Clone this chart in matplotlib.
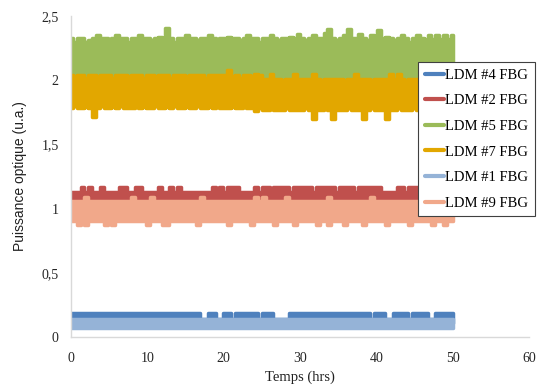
import numpy as np
import matplotlib
matplotlib.use("Agg")
import matplotlib.pyplot as plt
from matplotlib.lines import Line2D
from matplotlib.ticker import FuncFormatter

# upper / lower envelope of each noisy trace (one pair every ~0.5 h)
ldm4_hi = [0.19, 0.19, 0.19, 0.19, 0.19, 0.19, 0.19, 0.19, 0.19, 0.19,
           0.19, 0.19, 0.19, 0.19, 0.19, 0.19, 0.19, 0.19, 0.19, 0.19,
           0.19, 0.19, 0.19, 0.19, 0.19, 0.19, 0.19, 0.19, 0.19, 0.19,
           0.19, 0.19, 0.19, 0.19, 0.14, 0.14, 0.19, 0.19, 0.14, 0.14,
           0.19, 0.19, 0.14, 0.19, 0.19, 0.19, 0.19, 0.19, 0.19, 0.14,
           0.19, 0.19, 0.19, 0.14, 0.14, 0.14, 0.14, 0.19, 0.19, 0.19,
           0.19, 0.19, 0.19, 0.19, 0.19, 0.19, 0.19, 0.19, 0.19, 0.19,
           0.19, 0.19, 0.19, 0.19, 0.19, 0.19, 0.19, 0.19, 0.14, 0.19,
           0.19, 0.19, 0.14, 0.14, 0.19, 0.19, 0.19, 0.19, 0.14, 0.19,
           0.19, 0.19, 0.19, 0.14, 0.14, 0.19, 0.19, 0.19, 0.19, 0.19]
ldm4_lo = [0.11, 0.10, 0.11, 0.10, 0.11, 0.10, 0.11, 0.10, 0.11, 0.10,
           0.10, 0.11, 0.10, 0.11, 0.10, 0.11, 0.10, 0.11, 0.10, 0.11,
           0.11, 0.10, 0.11, 0.10, 0.11, 0.10, 0.11, 0.10, 0.11, 0.10,
           0.10, 0.11, 0.10, 0.11, 0.10, 0.11, 0.10, 0.11, 0.10, 0.11,
           0.11, 0.10, 0.11, 0.10, 0.11, 0.10, 0.11, 0.10, 0.11, 0.10,
           0.10, 0.11, 0.10, 0.11, 0.10, 0.11, 0.10, 0.11, 0.10, 0.11,
           0.11, 0.10, 0.11, 0.10, 0.11, 0.10, 0.11, 0.10, 0.11, 0.10,
           0.10, 0.11, 0.10, 0.11, 0.10, 0.11, 0.10, 0.11, 0.10, 0.11,
           0.11, 0.10, 0.11, 0.10, 0.11, 0.10, 0.11, 0.10, 0.11, 0.10,
           0.10, 0.11, 0.10, 0.11, 0.10, 0.11, 0.10, 0.11, 0.10, 0.11]

ldm2_hi = [1.13, 1.13, 1.13, 1.17, 1.13, 1.17, 1.13, 1.13, 1.17, 1.13,
           1.13, 1.13, 1.13, 1.17, 1.17, 1.13, 1.13, 1.17, 1.17, 1.13,
           1.13, 1.13, 1.13, 1.17, 1.13, 1.13, 1.17, 1.13, 1.17, 1.13,
           1.13, 1.13, 1.13, 1.13, 1.13, 1.13, 1.13, 1.17, 1.13, 1.17,
           1.13, 1.17, 1.17, 1.17, 1.13, 1.13, 1.13, 1.13, 1.17, 1.13,
           1.17, 1.17, 1.13, 1.17, 1.17, 1.17, 1.17, 1.13, 1.17, 1.17,
           1.17, 1.17, 1.17, 1.13, 1.17, 1.17, 1.17, 1.17, 1.17, 1.13,
           1.17, 1.17, 1.17, 1.17, 1.13, 1.17, 1.17, 1.17, 1.17, 1.17,
           1.17, 1.13, 1.13, 1.13, 1.13, 1.17, 1.17, 1.13, 1.17, 1.17,
           1.17, 1.13, 1.17, 1.17, 1.13, 1.17, 1.13, 1.13, 1.13, 1.13]
ldm2_lo = [1.02, 1.03, 1.02, 1.03, 1.02, 1.03, 1.02, 1.03, 1.02, 1.03,
           1.03, 1.02, 1.03, 1.02, 1.03, 1.02, 1.03, 1.02, 1.03, 1.02,
           1.02, 1.03, 1.02, 1.03, 1.02, 1.03, 1.02, 1.03, 1.02, 1.03,
           1.03, 1.02, 1.03, 1.02, 1.03, 1.02, 1.03, 1.02, 1.03, 1.02,
           1.02, 1.03, 1.02, 1.03, 1.02, 1.03, 1.02, 1.03, 1.02, 1.03,
           1.03, 1.02, 1.03, 1.02, 1.03, 1.02, 1.03, 1.02, 1.03, 1.02,
           1.02, 1.03, 1.02, 1.03, 1.02, 1.03, 1.02, 1.03, 1.02, 1.03,
           1.03, 1.02, 1.03, 1.02, 1.03, 1.02, 1.03, 1.02, 1.03, 1.02,
           1.02, 1.03, 1.02, 1.03, 1.02, 1.03, 1.02, 1.03, 1.02, 1.03,
           1.03, 1.02, 1.03, 1.02, 1.03, 1.02, 1.03, 1.02, 1.03, 1.02]

ldm5_hi = [2.33, 2.30, 2.33, 2.33, 2.30, 2.31, 2.33, 2.35, 2.33, 2.33,
           2.31, 2.33, 2.35, 2.33, 2.33, 2.30, 2.33, 2.33, 2.35, 2.33,
           2.33, 2.31, 2.33, 2.34, 2.33, 2.41, 2.33, 2.30, 2.33, 2.33,
           2.35, 2.33, 2.33, 2.31, 2.33, 2.33, 2.35, 2.33, 2.30, 2.33,
           2.33, 2.34, 2.33, 2.33, 2.31, 2.33, 2.35, 2.33, 2.33, 2.30,
           2.33, 2.33, 2.35, 2.33, 2.31, 2.33, 2.33, 2.34, 2.33, 2.36,
           2.33, 2.31, 2.33, 2.35, 2.33, 2.33, 2.37, 2.40, 2.33, 2.31,
           2.33, 2.35, 2.40, 2.33, 2.33, 2.36, 2.33, 2.31, 2.35, 2.33,
           2.39, 2.33, 2.34, 2.33, 2.31, 2.33, 2.35, 2.33, 2.30, 2.33,
           2.35, 2.33, 2.32, 2.35, 2.32, 2.35, 2.32, 2.35, 2.32, 2.35]
ldm5_lo = [1.98, 1.99, 1.98, 1.99, 1.98, 1.99, 1.98, 1.99, 1.98, 1.99,
           1.99, 1.98, 1.99, 1.98, 1.99, 1.98, 1.99, 1.98, 1.99, 1.98,
           1.98, 1.99, 1.98, 1.99, 1.98, 1.99, 1.98, 1.99, 1.98, 1.99,
           1.99, 1.98, 1.99, 1.98, 1.99, 1.98, 1.99, 1.98, 1.99, 1.98,
           1.98, 1.99, 1.98, 1.99, 1.98, 1.99, 1.98, 1.99, 1.98, 1.99,
           1.97, 1.96, 1.97, 1.96, 1.97, 1.96, 1.97, 1.96, 1.97, 1.96,
           1.96, 1.97, 1.96, 1.97, 1.96, 1.97, 1.96, 1.97, 1.96, 1.97,
           1.97, 1.96, 1.97, 1.96, 1.97, 1.96, 1.97, 1.96, 1.97, 1.96,
           1.96, 1.97, 1.96, 1.97, 1.96, 1.97, 1.96, 1.97, 1.96, 1.97,
           1.97, 1.96, 1.97, 1.96, 1.97, 1.96, 1.97, 1.96, 1.97, 1.96]

ldm7_hi = [2.04, 2.03, 2.04, 2.04, 2.02, 2.04, 2.04, 2.03, 2.04, 2.04,
           2.04, 2.02, 2.04, 2.04, 2.04, 2.03, 2.04, 2.04, 2.04, 2.02,
           2.04, 2.04, 2.03, 2.04, 2.04, 2.04, 2.02, 2.04, 2.04, 2.04,
           2.03, 2.04, 2.04, 2.04, 2.04, 2.02, 2.04, 2.04, 2.04, 2.04,
           2.04, 2.08, 2.03, 2.04, 2.02, 2.04, 2.04, 2.03, 2.05, 2.04,
           2.01, 2.01, 2.05, 2.01, 2.01, 2.00, 2.01, 2.01, 2.05, 2.01,
           2.01, 2.01, 2.01, 2.05, 2.01, 2.00, 2.01, 2.01, 2.01, 2.01,
           2.01, 2.00, 2.01, 2.01, 2.05, 2.01, 2.01, 2.01, 2.00, 2.01,
           2.01, 2.01, 2.01, 2.05, 2.01, 2.05, 2.01, 2.00, 2.01, 2.01,
           2.01, 2.01, 2.00, 2.01, 2.01, 2.01, 2.01, 2.01, 2.01, 2.01]
ldm7_lo = [1.78, 1.80, 1.78, 1.78, 1.79, 1.78, 1.71, 1.78, 1.80, 1.78,
           1.78, 1.79, 1.78, 1.80, 1.78, 1.78, 1.78, 1.80, 1.78, 1.79,
           1.78, 1.78, 1.80, 1.78, 1.78, 1.79, 1.78, 1.80, 1.78, 1.78,
           1.79, 1.78, 1.78, 1.80, 1.78, 1.78, 1.79, 1.78, 1.80, 1.78,
           1.78, 1.78, 1.79, 1.78, 1.78, 1.80, 1.78, 1.78, 1.76, 1.78,
           1.77, 1.77, 1.78, 1.77, 1.77, 1.77, 1.78, 1.77, 1.77, 1.77,
           1.77, 1.78, 1.77, 1.70, 1.77, 1.77, 1.78, 1.77, 1.70, 1.77,
           1.77, 1.77, 1.78, 1.77, 1.77, 1.77, 1.70, 1.77, 1.78, 1.77,
           1.77, 1.77, 1.70, 1.77, 1.77, 1.78, 1.77, 1.77, 1.77, 1.78,
           1.77, 1.77, 1.77, 1.78, 1.77, 1.77, 1.77, 1.77, 1.77, 1.77]

ldm1_hi = [0.14, 0.14, 0.14, 0.14, 0.14, 0.14, 0.14, 0.14, 0.14, 0.14,
           0.14, 0.14, 0.14, 0.14, 0.14, 0.14, 0.14, 0.14, 0.14, 0.14,
           0.14, 0.14, 0.14, 0.14, 0.14, 0.14, 0.14, 0.14, 0.14, 0.14,
           0.14, 0.14, 0.14, 0.14, 0.14, 0.14, 0.14, 0.14, 0.14, 0.14,
           0.14, 0.14, 0.14, 0.14, 0.14, 0.14, 0.14, 0.14, 0.14, 0.14,
           0.14, 0.14, 0.14, 0.14, 0.14, 0.14, 0.14, 0.14, 0.14, 0.14,
           0.14, 0.14, 0.14, 0.14, 0.14, 0.14, 0.14, 0.14, 0.14, 0.14,
           0.14, 0.14, 0.14, 0.14, 0.14, 0.14, 0.14, 0.14, 0.14, 0.14,
           0.14, 0.14, 0.14, 0.14, 0.14, 0.14, 0.14, 0.14, 0.14, 0.14,
           0.14, 0.14, 0.14, 0.14, 0.14, 0.14, 0.14, 0.14, 0.14, 0.14]
ldm1_lo = [0.07, 0.07, 0.07, 0.07, 0.07, 0.07, 0.07, 0.07, 0.07, 0.07,
           0.07, 0.07, 0.07, 0.07, 0.07, 0.07, 0.07, 0.07, 0.07, 0.07,
           0.07, 0.07, 0.07, 0.07, 0.07, 0.07, 0.07, 0.07, 0.07, 0.07,
           0.07, 0.07, 0.07, 0.07, 0.07, 0.07, 0.07, 0.07, 0.07, 0.07,
           0.07, 0.07, 0.07, 0.07, 0.07, 0.07, 0.07, 0.07, 0.07, 0.07,
           0.07, 0.07, 0.07, 0.07, 0.07, 0.07, 0.07, 0.07, 0.07, 0.07,
           0.07, 0.07, 0.07, 0.07, 0.07, 0.07, 0.07, 0.07, 0.07, 0.07,
           0.07, 0.07, 0.07, 0.07, 0.07, 0.07, 0.07, 0.07, 0.07, 0.07,
           0.07, 0.07, 0.07, 0.07, 0.07, 0.07, 0.07, 0.07, 0.07, 0.07,
           0.07, 0.07, 0.07, 0.07, 0.07, 0.07, 0.07, 0.07, 0.07, 0.07]

ldm9_hi = [1.06, 1.06, 1.06, 1.06, 1.09, 1.06, 1.06, 1.06, 1.06, 1.06,
           1.06, 1.06, 1.06, 1.06, 1.06, 1.06, 1.09, 1.06, 1.06, 1.06,
           1.06, 1.09, 1.06, 1.06, 1.06, 1.06, 1.06, 1.06, 1.06, 1.06,
           1.06, 1.06, 1.06, 1.06, 1.09, 1.06, 1.06, 1.06, 1.06, 1.06,
           1.06, 1.06, 1.06, 1.06, 1.06, 1.06, 1.06, 1.06, 1.09, 1.06,
           1.09, 1.06, 1.06, 1.06, 1.06, 1.06, 1.09, 1.06, 1.06, 1.06,
           1.06, 1.06, 1.06, 1.06, 1.06, 1.06, 1.06, 1.09, 1.06, 1.06,
           1.06, 1.06, 1.06, 1.06, 1.06, 1.06, 1.06, 1.06, 1.09, 1.06,
           1.06, 1.06, 1.06, 1.06, 1.06, 1.06, 1.06, 1.06, 1.06, 1.06,
           1.06, 1.06, 1.06, 1.06, 1.06, 1.06, 1.06, 1.06, 1.06, 1.06]
ldm9_lo = [0.90, 0.90, 0.87, 0.90, 0.87, 0.90, 0.90, 0.90, 0.90, 0.87,
           0.90, 0.87, 0.90, 0.90, 0.90, 0.90, 0.90, 0.90, 0.90, 0.90,
           0.87, 0.90, 0.90, 0.90, 0.87, 0.87, 0.90, 0.90, 0.90, 0.90,
           0.90, 0.90, 0.90, 0.87, 0.90, 0.90, 0.90, 0.90, 0.90, 0.90,
           0.90, 0.87, 0.90, 0.90, 0.90, 0.90, 0.90, 0.87, 0.90, 0.90,
           0.90, 0.90, 0.90, 0.87, 0.90, 0.90, 0.90, 0.90, 0.87, 0.90,
           0.90, 0.90, 0.90, 0.90, 0.87, 0.90, 0.90, 0.87, 0.90, 0.90,
           0.90, 0.87, 0.90, 0.90, 0.90, 0.90, 0.87, 0.90, 0.90, 0.90,
           0.90, 0.90, 0.87, 0.90, 0.90, 0.90, 0.90, 0.90, 0.87, 0.90,
           0.90, 0.90, 0.90, 0.90, 0.87, 0.90, 0.90, 0.87, 0.90, 0.90]

labels = ["LDM #4 FBG", "LDM #2 FBG", "LDM #5 FBG", "LDM #7 FBG", "LDM #1 FBG", "LDM #9 FBG"]
colors = ["#4F81BD", "#C0504D", "#9BBB59", "#E2A700", "#95B3D7", "#F1A88A"]
envelopes = [(ldm4_hi, ldm4_lo), (ldm2_hi, ldm2_lo), (ldm5_hi, ldm5_lo),
             (ldm7_hi, ldm7_lo), (ldm1_hi, ldm1_lo), (ldm9_hi, ldm9_lo)]

serif = "Liberation Serif"

fig = plt.figure(figsize=(5.4, 3.87), dpi=100)
ax = fig.add_axes([71 / 540, 1 - 337 / 387, 458 / 540, 321 / 387])

# the traces are sampled so densely that they read as solid bands
handles = []
for (hi, lo), lab, col in zip(envelopes, labels, colors):
    t = np.linspace(0, 50, len(hi))
    ax.fill_between(t, lo, hi, step="mid", facecolor=col, edgecolor=col, lw=2.5)
    handles.append(Line2D([], [], color=col, lw=3, solid_capstyle="round", label=lab))

ax.set_xlim(0, 60)
ax.set_ylim(0, 2.5)
ax.set_xticks([0, 10, 20, 30, 40, 50, 60])
ax.set_yticks([0, 0.5, 1, 1.5, 2, 2.5])
ax.yaxis.set_major_formatter(FuncFormatter(lambda v, p: f"{v:g}".replace(".", ",")))
ax.tick_params(length=0, labelsize=10, colors="#262626")
ax.tick_params(axis="y", pad=9)
ax.tick_params(axis="x", pad=11)
for lbl in ax.get_xticklabels() + ax.get_yticklabels():
    lbl.set_family(serif)

for s in ("top", "right"):
    ax.spines[s].set_visible(False)
for s in ("left", "bottom"):
    ax.spines[s].set_color("#D9D9D9")
    ax.spines[s].set_linewidth(1.0)

ax.set_xlabel("Temps (hrs)", family=serif, fontsize=10.5, color="#202020", labelpad=4)
ax.set_ylabel("Puissance optique (u.a.)", family="Liberation Sans", fontsize=10, color="#202020", labelpad=10)

leg = ax.legend(handles=handles, loc="upper left", bbox_to_anchor=(418 / 540, 1 - 62 / 387),
                bbox_transform=fig.transFigure, borderaxespad=0, fancybox=False,
                framealpha=1, edgecolor="#404040", prop={"family": serif, "size": 10.5},
                handlelength=1.3, handletextpad=0.1, labelspacing=0.85, borderpad=0.45)
leg.get_frame().set_linewidth(0.8)

fig.savefig("out.png", dpi=100)
